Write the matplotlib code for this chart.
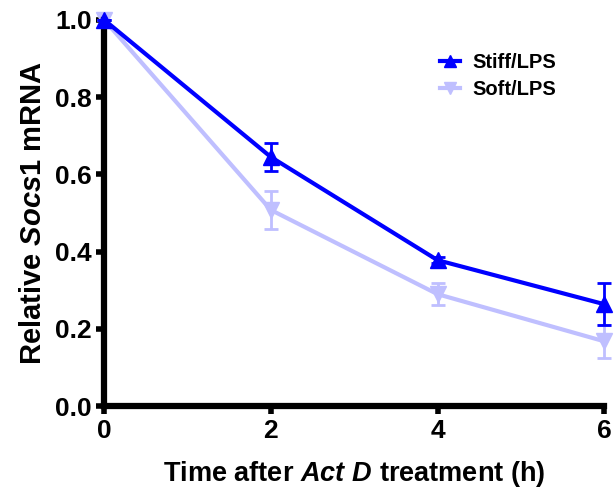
import matplotlib
matplotlib.use("Agg")
import matplotlib.pyplot as plt
from matplotlib.lines import Line2D

plt.rcParams['font.family'] = ['Liberation Sans', 'DejaVu Sans']
plt.rcParams['font.weight'] = 'bold'
plt.rcParams['mathtext.fontset'] = 'custom'
plt.rcParams['mathtext.it'] = 'Liberation Sans:italic:bold'
plt.rcParams['mathtext.rm'] = 'Liberation Sans:bold'

# Daten
hours = [0, 2, 4, 6]
stiff = [1.0, 0.645, 0.378, 0.264]
stiff_err = [0.0, 0.035, 0.008, 0.055]
soft = [1.0, 0.508, 0.290, 0.168]
soft_err = [0.0, 0.050, 0.028, 0.042]

dark = '#0000FF'
light = '#BFBFFF'

fig = plt.figure(figsize=(6.16, 4.96), dpi=100)
ax = fig.add_axes([0.169, 0.181, 0.812, 0.779])

ax.errorbar(hours, soft, yerr=soft_err, color=light, lw=3, marker='v',
            markersize=11, capsize=5, capthick=2, elinewidth=2,
            clip_on=False, zorder=2)
ax.errorbar(hours, stiff, yerr=stiff_err, color=dark, lw=3, marker='^',
            markersize=11, capsize=5, capthick=2, elinewidth=2,
            clip_on=False, zorder=3)

ax.set_xlim(0, 6)
ax.set_ylim(0, 1.0)
ax.set_xticks([0, 2, 4, 6])
ax.set_yticks([0.0, 0.2, 0.4, 0.6, 0.8, 1.0])
ax.set_yticklabels(['0.0', '0.2', '0.4', '0.6', '0.8', '1.0'])

for s in ['top', 'right']:
    ax.spines[s].set_visible(False)
for s in ['left', 'bottom']:
    ax.spines[s].set_linewidth(4.5)
ax.tick_params(width=4, length=6, labelsize=19, pad=3)
for lbl in ax.get_xticklabels() + ax.get_yticklabels():
    lbl.set_fontweight('bold')

ax.set_xlabel(r'Time after $\mathit{Act\ D}$ treatment (h)', fontsize=19.5,
              fontweight='bold', labelpad=12)
ax.set_ylabel(r'Relative $\mathit{Socs1}$ mRNA', fontsize=21,
              fontweight='bold', labelpad=6)

handles = [Line2D([], [], color=dark, lw=3, marker='^', markersize=8),
           Line2D([], [], color=light, lw=3, marker='v', markersize=8)]
leg = ax.legend(handles, ['Stiff/LPS', 'Soft/LPS'], loc='upper left',
                bbox_to_anchor=(0.635, 0.96), frameon=False, fontsize=14.5,
                handlelength=1.0, handletextpad=0.6, labelspacing=0.4)
for t in leg.get_texts():
    t.set_fontweight('bold')

plt.savefig('out.png', dpi=100)
